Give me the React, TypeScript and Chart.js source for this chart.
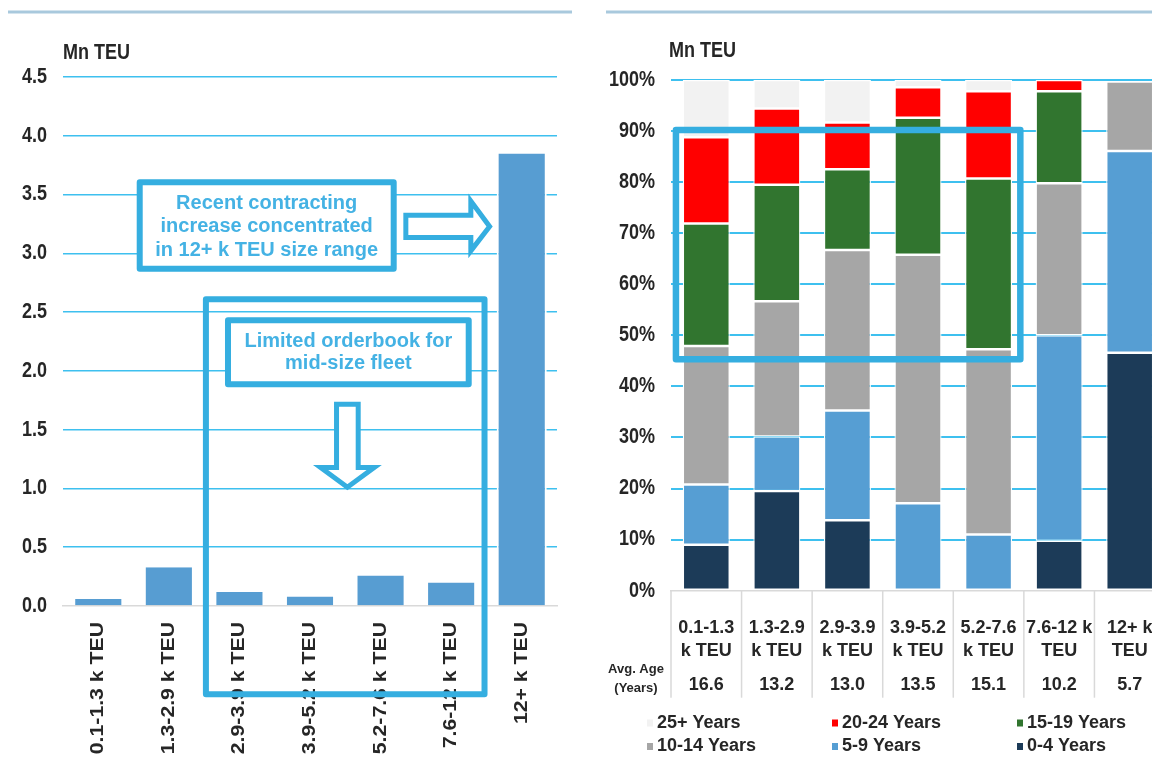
import React, { useEffect, useRef } from "react";
import { Chart, registerables } from "chart.js";

Chart.register(...registerables);

const FONT_FAMILY = "'Liberation Sans', Arial, Helvetica, sans-serif";
const INK = "#262626";
const GRID_CYAN = "#3ec0ef";
const CALLOUT_BLUE = "#35aee0";
const CALLOUT_TEXT = "#44b2e4";
const AXIS_GRAY = "#d9d9d9";
const RULE_BLUE = "#a9c9dd";
const BAR_BLUE = "#579dd2";
// axis lettering is set in a tall face
const TALL = 1.18;

// Left panel: orderbook by vessel size range (Mn TEU)
const sizeRanges = [
  "0.1-1.3 k TEU",
  "1.3-2.9 k TEU",
  "2.9-3.9 k TEU",
  "3.9-5.2 k TEU",
  "5.2-7.6 k TEU",
  "7.6-12 k TEU",
  "12+ k TEU",
];
const orderbookMnTeu = [0.06, 0.33, 0.12, 0.08, 0.26, 0.2, 3.85];

// Right panel: fleet age profile by size range (% of capacity)
const sizeRangeLines = [
  ["0.1-1.3", "k TEU"],
  ["1.3-2.9", "k TEU"],
  ["2.9-3.9", "k TEU"],
  ["3.9-5.2", "k TEU"],
  ["5.2-7.6", "k TEU"],
  ["7.6-12 k", "TEU"],
  ["12+ k", "TEU"],
];
const avgAgeYears = ["16.6", "13.2", "13.0", "13.5", "15.1", "10.2", "5.7"];
const ageBands = ["0-4 Years", "5-9 Years", "10-14 Years", "15-19 Years", "20-24 Years", "25+ Years"];
const ageBandColors = ["#1c3b58", "#569ed3", "#a6a6a6", "#31752f", "#ff0000", "#f2f2f2"];
const share0to4 = [9.0, 19.5, 13.8, 0, 0, 9.8, 46.6];
const share5to9 = [11.8, 10.7, 21.5, 17.1, 11.0, 40.2, 39.5];
const share10to14 = [27.1, 26.5, 31.4, 48.7, 36.3, 29.8, 13.6];
const share15to19 = [24.0, 22.8, 15.8, 26.8, 33.4, 18.0, 0];
const share20to24 = [16.9, 14.9, 9.2, 6.0, 17.1, 2.2, 0];
const share25plus = [11.2, 5.6, 8.3, 1.4, 2.2, 0, 0];
const ageShares = [share0to4, share5to9, share10to14, share15to19, share20to24, share25plus];

const font = (size: number) => `bold ${size}px ${FONT_FAMILY}`;

// Text drawn with a stretch along the glyph height (or along the run when rotated)
function tallText(
  ctx: CanvasRenderingContext2D,
  text: string,
  x: number,
  y: number,
  align: CanvasTextAlign,
  rotated: boolean
) {
  ctx.save();
  ctx.font = font(18);
  ctx.fillStyle = INK;
  ctx.textAlign = align;
  ctx.textBaseline = "middle";
  ctx.translate(x, y);
  if (rotated) {
    ctx.rotate(-Math.PI / 2);
    ctx.scale(TALL, 1);
  } else {
    ctx.scale(1, TALL);
  }
  ctx.fillText(text, 0, 0);
  ctx.restore();
}

// Position in (category index, axis value) space
function catPoint(chart: any, f: number, v: number): [number, number] {
  const xs = chart.scales.x;
  const ys = chart.scales.y;
  const x0 = xs.getPixelForValue(0);
  const w = xs.getPixelForValue(1) - x0;
  return [x0 + f * w, ys.getPixelForValue(v)];
}

function calloutBox(ctx: CanvasRenderingContext2D, chart: any, f1: number, v1: number, f2: number, v2: number, width: number, fill: boolean) {
  const [x1, y1] = catPoint(chart, f1, v1);
  const [x2, y2] = catPoint(chart, f2, v2);
  ctx.save();
  ctx.lineJoin = "round";
  ctx.lineWidth = width;
  ctx.strokeStyle = CALLOUT_BLUE;
  ctx.beginPath();
  ctx.rect(x1, y1, x2 - x1, y2 - y1);
  if (fill) {
    ctx.fillStyle = "#ffffff";
    ctx.fill();
  }
  ctx.stroke();
  ctx.restore();
}

function calloutArrow(ctx: CanvasRenderingContext2D, chart: any, pts: number[][], width: number) {
  ctx.save();
  ctx.lineJoin = "miter";
  ctx.lineWidth = width;
  ctx.strokeStyle = CALLOUT_BLUE;
  ctx.fillStyle = "#ffffff";
  ctx.beginPath();
  pts.forEach(([f, v], i) => {
    const [x, y] = catPoint(chart, f, v);
    if (i === 0) ctx.moveTo(x, y);
    else ctx.lineTo(x, y);
  });
  ctx.closePath();
  ctx.fill();
  ctx.stroke();
  ctx.restore();
}

function calloutText(ctx: CanvasRenderingContext2D, chart: any, f: number, vs: number[], lines: string[], size: number) {
  ctx.save();
  ctx.font = font(size);
  ctx.fillStyle = CALLOUT_TEXT;
  ctx.textAlign = "center";
  ctx.textBaseline = "middle";
  lines.forEach((line, i) => {
    const [x, y] = catPoint(chart, f, vs[i]);
    ctx.fillText(line, x, y);
  });
  ctx.restore();
}

function topRule(ctx: CanvasRenderingContext2D, x1: number, x2: number) {
  ctx.save();
  ctx.strokeStyle = RULE_BLUE;
  ctx.lineWidth = 3;
  ctx.beginPath();
  ctx.moveTo(x1, 12);
  ctx.lineTo(x2, 12);
  ctx.stroke();
  ctx.restore();
}

// Value-axis labels, right-aligned 16px left of the plot
function valueLabels(chart: any, fmt: (v: number) => string) {
  const ys = chart.scales.y;
  const x = chart.chartArea.left - 16;
  ys.ticks.forEach((t: any) => {
    tallText(chart.ctx, fmt(t.value), x, ys.getPixelForValue(t.value), "right", false);
  });
}

const orderbookOverlay = {
  id: "orderbookOverlay",
  beforeDraw(chart: any) {
    const ctx = chart.ctx;
    topRule(ctx, 8, 572);
    tallText(ctx, "Mn TEU", chart.chartArea.left, 53, "left", false);
  },
  afterDraw(chart: any) {
    const ctx = chart.ctx;
    const xs = chart.scales.x;
    const { bottom } = chart.chartArea;

    valueLabels(chart, (v) => v.toFixed(1));
    chart.data.labels.forEach((label: string, i: number) => {
      tallText(ctx, label, xs.getPixelForValue(i), bottom + 16, "right", true);
    });

    // mid-size bracket
    calloutBox(ctx, chart, 1.525, 2.609, 5.473, -0.751, 6, false);
    // contracting note
    calloutBox(ctx, chart, 0.587, 3.604, 4.186, 2.869, 6, true);
    calloutText(ctx, chart, 2.386, [3.428, 3.226, 3.02], ["Recent contracting", "increase concentrated", "in 12+ k TEU size range"], 20);
    calloutArrow(ctx, chart, [
      [4.358, 3.324], [5.279, 3.324], [5.279, 3.445], [5.545, 3.229],
      [5.279, 3.021], [5.279, 3.135], [4.358, 3.135],
    ], 5);
    // mid-size note
    calloutBox(ctx, chart, 1.838, 2.43, 5.249, 1.886, 6, true);
    calloutText(ctx, chart, 3.544, [2.248, 2.064], ["Limited orderbook for", "mid-size fleet"], 20);
    calloutArrow(ctx, chart, [
      [3.376, 1.717], [3.683, 1.717], [3.683, 1.178], [3.91, 1.178],
      [3.53, 1.01], [3.15, 1.178], [3.376, 1.178],
    ], 5);
  },
};

const ageOverlay = {
  id: "ageOverlay",
  beforeDraw(chart: any) {
    const ctx = chart.ctx;
    topRule(ctx, 16, 562);
    tallText(ctx, "Mn TEU", chart.chartArea.left - 2, 51, "left", false);
  },
  afterDraw(chart: any) {
    const ctx = chart.ctx;
    const xs = chart.scales.x;
    const { left, bottom } = chart.chartArea;
    const x0 = xs.getPixelForValue(0);
    const w = xs.getPixelForValue(1) - x0;
    const n = chart.data.labels.length;

    valueLabels(chart, (v) => `${v}%`);

    // table separators
    ctx.save();
    ctx.strokeStyle = AXIS_GRAY;
    ctx.lineWidth = 1.5;
    for (let i = 0; i <= n; i++) {
      const x = x0 - w / 2 + i * w;
      ctx.beginPath();
      ctx.moveTo(x, bottom);
      ctx.lineTo(x, bottom + 107);
      ctx.stroke();
    }
    ctx.restore();

    // average age row
    ctx.save();
    ctx.fillStyle = INK;
    ctx.textAlign = "center";
    ctx.textBaseline = "middle";
    ctx.font = font(13);
    ctx.fillText("Avg. Age", left - 35, bottom + 79);
    ctx.fillText("(Years)", left - 35, bottom + 98);
    ctx.font = font(18);
    avgAgeYears.forEach((age, i) => {
      ctx.fillText(age, xs.getPixelForValue(i), bottom + 94.5);
    });
    ctx.restore();

    // legend, three columns, oldest band first
    const colX = [left - 24, left + 161, left + 346];
    const rowY = [723, 746.5];
    const items = [...chart.data.datasets].reverse();
    ctx.save();
    ctx.font = font(18);
    ctx.textAlign = "left";
    ctx.textBaseline = "middle";
    items.forEach((ds: any, k: number) => {
      const x = colX[k % 3];
      const y = rowY[Math.floor(k / 3)];
      ctx.fillStyle = ds.backgroundColor;
      ctx.fillRect(x, y - 3.5, 6, 7);
      ctx.fillStyle = INK;
      ctx.fillText(ds.label, x + 10, y);
    });
    ctx.restore();

    // highlighted 15-24 year cohort
    calloutBox(ctx, chart, -0.43, 90.2, 4.45, 45.3, 6.5, false);
  },
};

const tickFont = { family: FONT_FAMILY, size: 18, weight: "bold" as const };

export default function App() {
  const leftRef = useRef<HTMLCanvasElement | null>(null);
  const rightRef = useRef<HTMLCanvasElement | null>(null);

  useEffect(() => {
    if (!leftRef.current || !rightRef.current) return;

    const orderbook = new Chart(leftRef.current, {
      type: "bar",
      data: {
        labels: sizeRanges,
        datasets: [
          {
            data: orderbookMnTeu,
            backgroundColor: BAR_BLUE,
            borderColor: "#ffffff",
            borderWidth: { left: 2, right: 2, top: 0, bottom: 0 },
            borderSkipped: "start",
            barPercentage: 0.71,
            categoryPercentage: 1,
          },
        ],
      },
      options: {
        responsive: false,
        animation: false,
        devicePixelRatio: 1,
        layout: { padding: { top: 77, right: 23, left: 0, bottom: 0 } },
        plugins: { legend: { display: false }, tooltip: { enabled: false } },
        scales: {
          x: {
            grid: { display: false },
            border: { display: true, color: AXIS_GRAY, width: 1.5 },
            ticks: { display: false, autoSkip: false },
            afterFit: (s: any) => {
              s.height = 152;
            },
          },
          y: {
            min: 0,
            max: 4.5,
            border: { display: false },
            grid: {
              drawTicks: false,
              lineWidth: 1.6,
              color: (c: any) => (c.tick && c.tick.value === 0 ? "rgba(0,0,0,0)" : GRID_CYAN),
            },
            ticks: { display: false, stepSize: 0.5 },
            afterFit: (s: any) => {
              s.width = 63;
            },
          },
        },
      },
      plugins: [orderbookOverlay],
    });

    const ageProfile = new Chart(rightRef.current, {
      type: "bar",
      data: {
        labels: sizeRangeLines,
        datasets: ageBands.map((label, i) => ({
          label,
          data: ageShares[i],
          backgroundColor: ageBandColors[i],
          borderColor: "#ffffff",
          borderWidth: 1.25,
          borderSkipped: false,
          barPercentage: 0.666,
          categoryPercentage: 1,
        })),
      },
      options: {
        responsive: false,
        animation: false,
        devicePixelRatio: 1,
        layout: { padding: { top: 80, right: 35, left: 0, bottom: 0 } },
        plugins: { legend: { display: false }, tooltip: { enabled: false } },
        scales: {
          x: {
            stacked: true,
            grid: { display: false },
            border: { display: true, color: AXIS_GRAY, width: 1.5 },
            ticks: {
              minRotation: 0,
              maxRotation: 0,
              autoSkip: false,
              padding: 17.8,
              font: { ...tickFont, lineHeight: 1.278 },
              color: INK,
            },
            afterFit: (s: any) => {
              s.height = 167.3;
            },
          },
          y: {
            stacked: true,
            min: 0,
            max: 100,
            border: { display: false },
            grid: {
              drawTicks: false,
              lineWidth: 2,
              color: (c: any) => (c.tick && c.tick.value === 0 ? "rgba(0,0,0,0)" : GRID_CYAN),
            },
            ticks: { display: false, stepSize: 10 },
            afterFit: (s: any) => {
              s.width = 81;
            },
          },
        },
      },
      plugins: [ageOverlay],
    });

    return () => {
      orderbook.destroy();
      ageProfile.destroy();
    };
  }, []);

  return (
    <div
      style={{
        position: "absolute",
        left: 0,
        top: 0,
        width: 1152,
        height: 758,
        overflow: "hidden",
        background: "#ffffff",
      }}
    >
      <canvas ref={leftRef} width={580} height={758} style={{ position: "absolute", left: 0, top: 0 }} />
      <canvas ref={rightRef} width={610} height={758} style={{ position: "absolute", left: 590, top: 0 }} />
    </div>
  );
}
